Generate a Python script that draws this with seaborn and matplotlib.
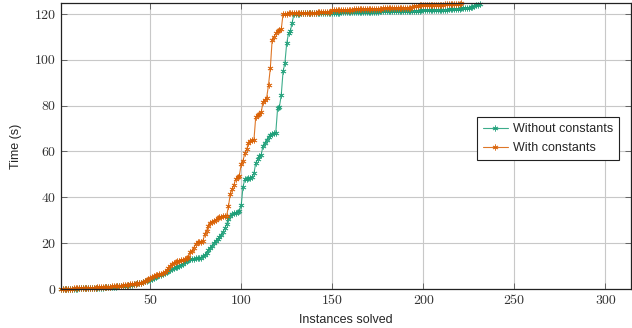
import numpy as np
import pandas as pd
import matplotlib
matplotlib.use("Agg")
import matplotlib.pyplot as plt
import seaborn as sns

# Tiempo por instancia resuelta (ordenado)
without_constants = [
    0.1, 0.1, 0.1, 0.1, 0.1, 0.2, 0.2, 0.2, 0.2, 0.2,
    0.3, 0.3, 0.3, 0.3, 0.4, 0.4, 0.4, 0.4, 0.5, 0.5,
    0.5, 0.6, 0.6, 0.6, 0.7, 0.7, 0.8, 0.8, 0.9, 0.9,
    1.0, 1.1, 1.1, 1.2, 1.3, 1.4, 1.5, 1.6, 1.8, 1.9,
    2.0, 2.2, 2.4, 2.6, 2.8, 3.0, 3.3, 3.5, 3.8, 4.1,
    4.4, 4.8, 5.1, 5.5, 5.9, 6.3, 6.7, 7.1, 7.5, 7.8,
    8.2, 8.6, 9.0, 9.4, 9.7, 10.1, 10.6, 11.1, 11.8, 12.4,
    12.7, 12.9, 13.0, 13.1, 13.3, 13.4, 13.5, 13.7, 14.2, 14.8,
    15.9, 17.0, 17.9, 18.8, 20.0, 21.0, 21.9, 22.5, 23.6, 24.8,
    26.5, 28.3, 30.5, 31.9, 32.5, 33.0, 33.2, 33.6, 34.1, 36.5,
    44.5, 48.0, 48.2, 48.3, 48.5, 48.8, 50.5, 55.0, 56.5, 58.0,
    58.6, 62.5, 63.5, 65.0, 66.5, 67.2, 67.6, 67.9, 68.2, 78.8,
    79.5, 84.6, 94.9, 98.5, 107.2, 111.5, 112.5, 116.2, 120.0, 120.1,
    120.1, 120.1, 120.2, 120.2, 120.2, 120.2, 120.3, 120.3, 120.3, 120.3,
    120.3, 120.4, 120.4, 120.4, 120.4, 120.5, 120.5, 120.5, 120.5, 120.6,
    120.6, 120.6, 120.6, 120.6, 120.7, 120.7, 120.7, 120.7, 120.7, 120.8,
    120.8, 120.8, 120.8, 120.8, 120.9, 120.9, 120.9, 120.9, 120.9, 121.0,
    121.0, 121.0, 121.0, 121.0, 121.0, 121.1, 121.1, 121.1, 121.1, 121.1,
    121.2, 121.2, 121.2, 121.2, 121.2, 121.3, 121.3, 121.3, 121.3, 121.3,
    121.4, 121.4, 121.4, 121.4, 121.5, 121.5, 121.5, 121.5, 121.6, 121.6,
    121.6, 121.6, 121.7, 121.7, 121.7, 121.7, 121.8, 121.8, 121.8, 121.8,
    121.9, 121.9, 121.9, 122.0, 122.0, 122.0, 122.1, 122.1, 122.2, 122.3,
    122.4, 122.5, 122.6, 122.7, 122.8, 123.0, 123.2, 123.4, 123.7, 124.0,
    124.3,
]

with_constants = [
    0.1, 0.1, 0.1, 0.2, 0.2, 0.2, 0.2, 0.3, 0.3, 0.3,
    0.3, 0.4, 0.4, 0.4, 0.5, 0.5, 0.5, 0.6, 0.6, 0.6,
    0.7, 0.7, 0.8, 0.8, 0.9, 0.9, 1.0, 1.0, 1.1, 1.2,
    1.2, 1.3, 1.4, 1.5, 1.6, 1.7, 1.8, 1.9, 2.0, 2.1,
    2.2, 2.3, 2.5, 2.6, 2.8, 3.0, 3.3, 3.7, 4.2, 5.0,
    5.4, 5.7, 6.0, 6.2, 6.4, 6.7, 7.0, 7.5, 8.2, 9.0,
    9.9, 10.8, 11.3, 11.7, 12.0, 12.3, 12.6, 12.8, 13.0, 13.3,
    14.0, 16.0, 16.5, 18.0, 19.8, 20.3, 20.5, 20.6, 21.0, 24.0,
    25.5, 27.5, 28.8, 29.4, 29.8, 30.3, 30.8, 31.2, 31.5, 31.7,
    31.8, 31.9, 36.0, 41.5, 43.5, 45.4, 48.0, 49.0, 49.5, 54.5,
    56.0, 59.2, 61.0, 63.6, 64.5, 64.8, 65.0, 75.2, 75.8, 76.5,
    77.0, 81.7, 82.5, 83.5, 89.0, 96.3, 108.6, 110.0, 111.5, 112.5,
    113.0, 113.3, 120.0, 120.1, 120.1, 120.2, 120.2, 120.2, 120.3, 120.3,
    120.3, 120.4, 120.4, 120.4, 120.4, 120.5, 120.5, 120.5, 120.6, 120.6,
    120.6, 120.7, 120.7, 120.7, 120.8, 120.8, 120.9, 120.9, 121.0, 121.6,
    121.7, 121.7, 121.7, 121.8, 121.8, 121.8, 121.8, 121.9, 121.9, 121.9,
    121.9, 122.0, 122.0, 122.0, 122.0, 122.1, 122.1, 122.1, 122.1, 122.2,
    122.2, 122.2, 122.2, 122.3, 122.3, 122.3, 122.3, 122.4, 122.4, 122.4,
    122.4, 122.5, 122.5, 122.5, 122.5, 122.6, 122.6, 122.6, 122.7, 122.7,
    122.7, 122.8, 122.8, 122.9, 123.5, 123.6, 123.6, 123.7, 123.7, 123.8,
    123.8, 123.8, 123.9, 123.9, 123.9, 124.0, 124.0, 124.0, 124.1, 124.1,
    124.1, 124.2, 124.2, 124.2, 124.3, 124.3, 124.3, 124.4, 124.4, 124.5,
    124.6,
]

series_names = ["Without constants", "With constants"]
series_colors = ["#1b9e77", "#d95f02"]
x_ticks = [50, 100, 150, 200, 250, 300]
y_ticks = [0, 20, 40, 60, 80, 100, 120]

df = pd.concat([
    pd.DataFrame({"instances": np.arange(1, len(without_constants) + 1),
                  "time": without_constants, "config": series_names[0]}),
    pd.DataFrame({"instances": np.arange(1, len(with_constants) + 1),
                  "time": with_constants, "config": series_names[1]}),
], ignore_index=True)

sns.set_theme(style="whitegrid")
plt.rcParams["font.family"] = ["Liberation Sans", "DejaVu Sans"]

fig = plt.figure(figsize=(6.32, 3.28), dpi=100)
ax = fig.add_axes([0.0965, 0.119, 0.9015, 0.872])

star = (6, 2, 0)
sns.lineplot(data=df, x="instances", y="time", hue="config", style="config",
             hue_order=series_names, style_order=series_names,
             palette=series_colors,
             markers={n: star for n in series_names}, dashes=False,
             markersize=4.2, markeredgewidth=0.6, linewidth=0.8,
             alpha=0.85, ax=ax)

# los marcadores asterisco son solo borde: usar el color de la línea
for line in ax.lines:
    line.set_markeredgecolor(line.get_color())
    line.set_clip_on(False)

ax.set_xlim(1, 314)
ax.set_ylim(0, 124.8)
ax.set_xticks(x_ticks)
ax.set_yticks(y_ticks)
ax.grid(True, color="#c8c8c8", linewidth=0.8)
for s in ax.spines.values():
    s.set_color("#222222")
    s.set_linewidth(0.9)
ax.tick_params(direction="in", length=4, width=0.6, color="#555555",
               top=True, right=True, bottom=True, left=True, pad=4)
for lab in ax.get_xticklabels() + ax.get_yticklabels():
    lab.set_family(["cmr10", "DejaVu Serif"])
    lab.set_fontsize(10)
    lab.set_color("#333333")

ax.set_xlabel("Instances solved", fontsize=9, labelpad=5)
ax.set_ylabel("Time (s)", fontsize=9, labelpad=9)

leg = ax.legend(loc="center right", bbox_to_anchor=(0.98, 0.526),
                borderaxespad=0, fontsize=9, frameon=True, fancybox=False,
                edgecolor="#222222", framealpha=1, borderpad=0.5,
                handlelength=2.0, handletextpad=0.4, labelspacing=0.55)
leg.get_frame().set_linewidth(0.8)
for h in leg.get_lines():
    h.set_markeredgecolor(h.get_color())

fig.savefig("out.png", dpi=100)
